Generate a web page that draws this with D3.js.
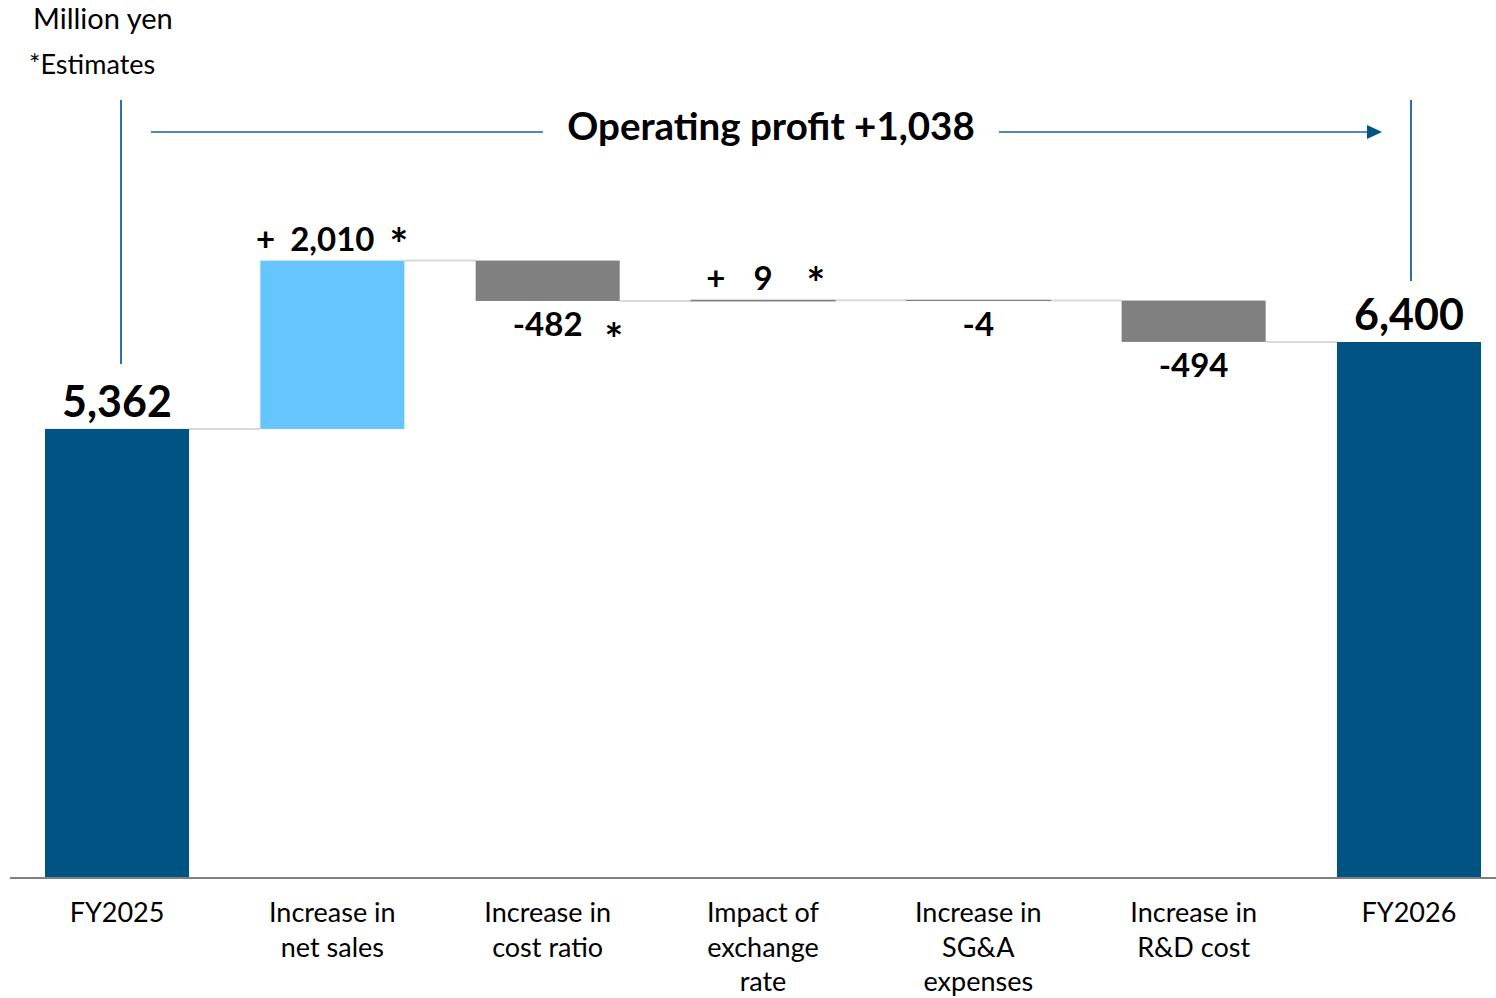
<!DOCTYPE html>
<html>
<head>
<meta charset="utf-8">
<script src="https://cdn.jsdelivr.net/npm/d3@7"></script>
<style>
  html, body { margin: 0; padding: 0; background: #fff; }
  svg { display: block; font-family: Lato, "Open Sans", sans-serif; }
</style>
</head>
<body>
<div id="chart"></div>
<script>
// Données du waterfall (millions de yens)
const categories = ['FY2025', 'Increase in net sales', 'Increase in cost ratio', 'Impact of exchange rate',
    'Increase in SG&A expenses', 'Increase in R&D cost', 'FY2026'];
const categoryLines = [
    ['FY2025'],
    ['Increase in', 'net sales'],
    ['Increase in', 'cost ratio'],
    ['Impact of', 'exchange', 'rate'],
    ['Increase in', 'SG&A', 'expenses'],
    ['Increase in', 'R&D cost'],
    ['FY2026']
];
const values = [5362, 2010, -482, 9, -4, -494, 6400];
const kinds = ['total', 'up', 'down', 'up', 'down', 'down', 'total'];
const valueLabels = ['5,362', '2,010', '-482', '9', '-4', '-494', '6,400'];
const estimated = [false, true, true, true, false, false, false];
const titleText = 'Operating profit +1,038';

const width = 1496, height = 998;
const baseY = 878;

const svg = d3.select('#chart').append('svg')
    .attr('width', width)
    .attr('height', height);

// Échelles
const x = d3.scaleBand()
    .domain(categories)
    .range([45, 1481])
    .paddingInner(0.331)
    .paddingOuter(0);

const y = d3.scaleLinear()
    .domain([0, 6400])
    .range([baseY, 342]);

// Calcul des cumuls
let running = 0;
const bars = categories.map((c, i) => {
    let start, end;
    if (kinds[i] === 'total') {
        start = 0; end = values[i]; running = values[i];
    } else {
        start = running; end = running + values[i]; running = end;
    }
    return { cat: c, i, start, end, kind: kinds[i], label: valueLabels[i], est: estimated[i] };
});

const colors = { total: '#005383', up: '#66c4ff', down: '#808080' };

// Connecteurs
const conn = svg.append('g');
bars.slice(0, -1).forEach((b, i) => {
    const next = bars[i + 1];
    conn.append('line')
        .attr('x1', x(b.cat) + x.bandwidth())
        .attr('x2', x(next.cat))
        .attr('y1', y(b.end))
        .attr('y2', y(b.end))
        .attr('stroke', '#d9d9d9')
        .attr('stroke-width', 2);
});

// Barres (les très petites barres sont tracées comme un trait gris)
const isThin = d => Math.abs(y(d.start) - y(d.end)) < 2;
svg.append('g').selectAll('rect')
    .data(bars)
    .enter()
    .append('rect')
    .attr('x', d => x(d.cat))
    .attr('y', d => y(Math.max(d.start, d.end)))
    .attr('width', x.bandwidth())
    .attr('height', d => Math.abs(y(d.start) - y(d.end)))
    .attr('fill', d => isThin(d) ? '#808080' : colors[d.kind])
    .attr('stroke', d => isThin(d) ? '#808080' : 'none')
    .attr('stroke-width', 1);

// Axe horizontal
svg.append('line')
    .attr('x1', 10).attr('x2', 1496)
    .attr('y1', baseY).attr('y2', baseY)
    .attr('stroke', '#7f7f7f')
    .attr('stroke-width', 2);

// Libellés des catégories
const catG = svg.append('g');
bars.forEach((b, i) => {
    const t = catG.append('text')
        .attr('x', x(b.cat) + x.bandwidth() / 2)
        .attr('y', 922)
        .attr('text-anchor', 'middle')
        .style('font-size', '27px')
        .style('fill', '#000');
    categoryLines[i].forEach((line, j) => {
        t.append('tspan')
            .attr('x', x(b.cat) + x.bandwidth() / 2)
            .attr('dy', j === 0 ? 0 : 34.5)
            .text(line);
    });
});

// Espacements des signes "+" et "*" autour des valeurs
const plusGap = { 1: 15, 3: 28 };
const starGap = { 1: 15, 2: 22, 3: 34 };

// Valeurs
const valG = svg.append('g').style('font-weight', 'bold').style('fill', '#000');
bars.forEach(b => {
    const cx = x(b.cat) + x.bandwidth() / 2;
    const top = y(Math.max(b.start, b.end));
    const bottom = y(Math.min(b.start, b.end));
    if (b.kind === 'total') {
        valG.append('text')
            .attr('x', cx).attr('y', top - 12)
            .attr('text-anchor', 'middle')
            .style('font-size', '43px')
            .text(b.label);
    } else if (b.kind === 'up') {
        const t = valG.append('text')
            .attr('x', cx).attr('y', top - 10)
            .attr('text-anchor', 'middle')
            .style('font-size', '33px')
            .text(b.label);
        const w = t.node().getComputedTextLength();
        valG.append('text')
            .attr('x', cx - w / 2 - plusGap[b.i]).attr('y', top - 10)
            .attr('text-anchor', 'end')
            .style('font-size', '33px')
            .text('+');
        if (b.est) {
            valG.append('text')
                .attr('x', cx + w / 2 + starGap[b.i]).attr('y', top - 1)
                .style('font-size', '44px')
                .text('*');
        }
    } else {
        const t = valG.append('text')
            .attr('x', cx).attr('y', bottom + 35)
            .attr('text-anchor', 'middle')
            .style('font-size', '33px')
            .text(b.label);
        const w = t.node().getComputedTextLength();
        if (b.est) {
            valG.append('text')
                .attr('x', cx + w / 2 + starGap[b.i]).attr('y', bottom + 54)
                .style('font-size', '44px')
                .text('*');
        }
    }
});

// Unités et note
svg.append('text').attr('x', 33).attr('y', 29)
    .style('font-size', '29px').text('Million yen');
svg.append('text').attr('x', 29).attr('y', 74)
    .style('font-size', '27px').text('*Estimates');

// Flèche de variation
const first = bars[0], last = bars[bars.length - 1];
const fx = x(first.cat) + x.bandwidth() / 2 + 4;
const lx = x(last.cat) + x.bandwidth() / 2 + 2;
svg.append('line')
    .attr('x1', fx).attr('x2', fx)
    .attr('y1', 100).attr('y2', 364)
    .attr('stroke', '#2e6ea3').attr('stroke-width', 2);
svg.append('line')
    .attr('x1', lx).attr('x2', lx)
    .attr('y1', 100).attr('y2', 281)
    .attr('stroke', '#2e6ea3').attr('stroke-width', 2);

svg.append('text')
    .attr('x', 771).attr('y', 140)
    .attr('text-anchor', 'middle')
    .style('font-size', '38.5px')
    .style('font-weight', 'bold')
    .text(titleText);

svg.append('line')
    .attr('x1', 151).attr('x2', 543)
    .attr('y1', 132).attr('y2', 132)
    .attr('stroke', '#1f5f93').attr('stroke-width', 1.6);
svg.append('line')
    .attr('x1', 999).attr('x2', 1370)
    .attr('y1', 132).attr('y2', 132)
    .attr('stroke', '#1f5f93').attr('stroke-width', 1.6);
svg.append('path')
    .attr('d', 'M1367,125 L1382,132 L1367,139 Z')
    .attr('fill', '#005383');
</script>
</body>
</html>
